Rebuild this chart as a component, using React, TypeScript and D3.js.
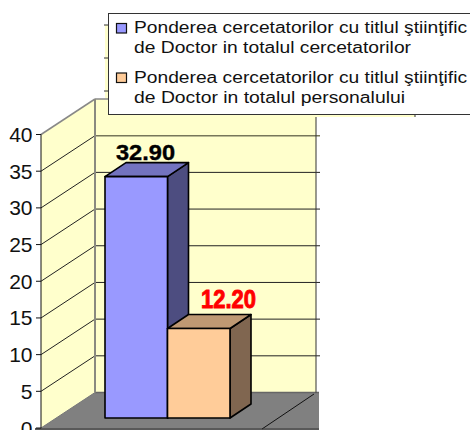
import React from "react";
import * as d3 from "d3";

const seriesNames = [
  ["Ponderea cercetatorilor cu titlul ştiinţific", "de Doctor in totalul cercetatorilor"],
  ["Ponderea cercetatorilor cu titlul ştiinţific", "de Doctor in totalul personalului"],
];
const lineWidths = [
  [333, 277],
  [333, 271],
];
const values = [32.9, 12.2];
const tickValues = [0, 5, 10, 15, 20, 25, 30, 35, 40];
const fronts = ["#9999FF", "#FFCC99"];
const sides = ["#4D4D80", "#806650"];
const tops = ["#7373BF", "#BF9973"];
const labelColors = ["#000000", "#FF0000"];

const sans = "'Liberation Sans', Arial, sans-serif";
const y = d3.scaleLinear().domain([0, 40]).range([428, 134.5]);
const x = d3.scaleBand<number>().domain([0, 1]).range([105, 230]).paddingInner(0);
const wallDx = 54;
const wallDy = -35.5;
const barDx = 21;
const barDy = -14;
const barBase = 418;
const poly = (pts: [number, number][]) => pts.map((p) => p.join(",")).join(" ");

export default function App() {
  const x0 = 41;
  const xb = x0 + wallDx;
  const xr = 316;
  const yFloorBack = y(0) + wallDy;
  const yTopBack = y(40) + wallDy;
  return (
    <svg width={470} height={430} style={{ position: "fixed", left: 0, top: 0, background: "#fff" }} fontFamily={sans}>
      {/* ghost plot frame behind the legend */}
      <rect x={105} y={25} width={310} height={92} fill="#FFFFCC" />
      {[25, 58, 91].map((t) => (
        <line key={t} x1={104} x2={108} y1={t} y2={t} stroke="#333" />
      ))}
      {[208, 415].map((t) => (
        <line key={t} x1={t} x2={t} y1={114} y2={117} stroke="#333" />
      ))}

      {/* walls */}
      <polygon points={poly([[x0, y(0)], [xb, yFloorBack], [xb, yTopBack], [x0, y(40)]])} fill="#FFFFCC" />
      <rect x={xb} y={yTopBack} width={xr - xb} height={yFloorBack - yTopBack} fill="#FFFFCC" />
      {/* floor */}
      <polygon points={poly([[x0, y(0)], [xb, yFloorBack], [319, yFloorBack], [319, y(0)]])} fill="#808080" />
      <line x1={xb} x2={319} y1={yFloorBack} y2={yFloorBack} stroke="#666" strokeWidth={1.5} />
      <line x1={x0} y1={y(0)} x2={xb} y2={yFloorBack} stroke="#777" />
      <line x1={314} y1={394} x2={262} y2={429} stroke="#111" />

      {/* gridlines */}
      {tickValues.filter((t) => t > 0 && t < 40).map((t) => (
        <g key={t}>
          <line x1={x0} y1={y(t)} x2={xb} y2={y(t) + wallDy} stroke="#222" />
          <line x1={xb} y1={y(t) + wallDy} x2={320} y2={y(t) + wallDy} stroke={t === 35 ? "#77775A" : "#222"} strokeWidth={t === 35 ? 1.5 : 1} />
        </g>
      ))}
      <line x1={x0} y1={y(40)} x2={xb} y2={yTopBack} stroke="#888" strokeWidth={1.5} />
      <line x1={xb} y1={yTopBack} x2={108} y2={yTopBack} stroke="#888" strokeWidth={1.5} />
      <line x1={xb} y1={yTopBack} x2={xb} y2={yFloorBack} stroke="#8A8A80" strokeWidth={2} />
      <line x1={xr} y1={117} x2={xr} y2={yFloorBack} stroke="#333" />

      {/* axis */}
      <line x1={x0} y1={y(40)} x2={x0} y2={y(0)} stroke="#111" />
      <line x1={35} y1={429} x2={319} y2={429} stroke="#222" strokeWidth={1.5} />
      {tickValues.map((t) => (
        <g key={t}>
          <line x1={36} x2={x0} y1={y(t)} y2={y(t)} stroke="#111" />
          <text x={32.5} y={y(t) + 7.5} textAnchor="end" fontSize={21} fill="#111">{t}</text>
        </g>
      ))}

      {/* bars */}
      {values.map((v, i) => {
        const l = x(i)!;
        const r = l + x.bandwidth();
        const top = barBase - (y(0) - y(v));
        return (
          <g key={i} stroke="#000" strokeWidth={1.6} strokeLinejoin="round">
            <polygon points={poly([[r, top], [r + barDx, top + barDy], [r + barDx, barBase + barDy], [r, barBase]])} fill={sides[i]} />
            <polygon points={poly([[l, top], [l + barDx, top + barDy], [r + barDx, top + barDy], [r, top]])} fill={tops[i]} />
            <rect x={l} y={top} width={x.bandwidth()} height={barBase - top} fill={fronts[i]} />
          </g>
        );
      })}

      {/* value labels */}
      <text x={116} y={160} fontSize={22} fontWeight="bold" fill={labelColors[0]} stroke={labelColors[0]} strokeWidth={0.4} textLength={59} lengthAdjust="spacingAndGlyphs">
        {d3.format(".2f")(values[0])}
      </text>
      <text x={201} y={308} fontSize={25} fontWeight="bold" fill={labelColors[1]} stroke={labelColors[1]} strokeWidth={0.9} textLength={55} lengthAdjust="spacingAndGlyphs">
        {d3.format(".2f")(values[1])}
      </text>

      {/* legend */}
      <rect x={108.5} y={13.5} width={365} height={101} fill="#fff" stroke="#333" />
      {seriesNames.map((lines, i) => {
        const base = 33 + i * 49.5;
        return (
          <g key={i}>
            <rect x={116.5} y={base - 9.5} width={10} height={9.5} fill={fronts[i]} stroke="#111" strokeWidth={1.2} />
            {lines.map((s, j) => (
              <text key={j} x={134} y={base + j * 20} fontSize={16} fill="#111" textLength={lineWidths[i][j]} lengthAdjust="spacingAndGlyphs">{s}</text>
            ))}
          </g>
        );
      })}
    </svg>
  );
}
